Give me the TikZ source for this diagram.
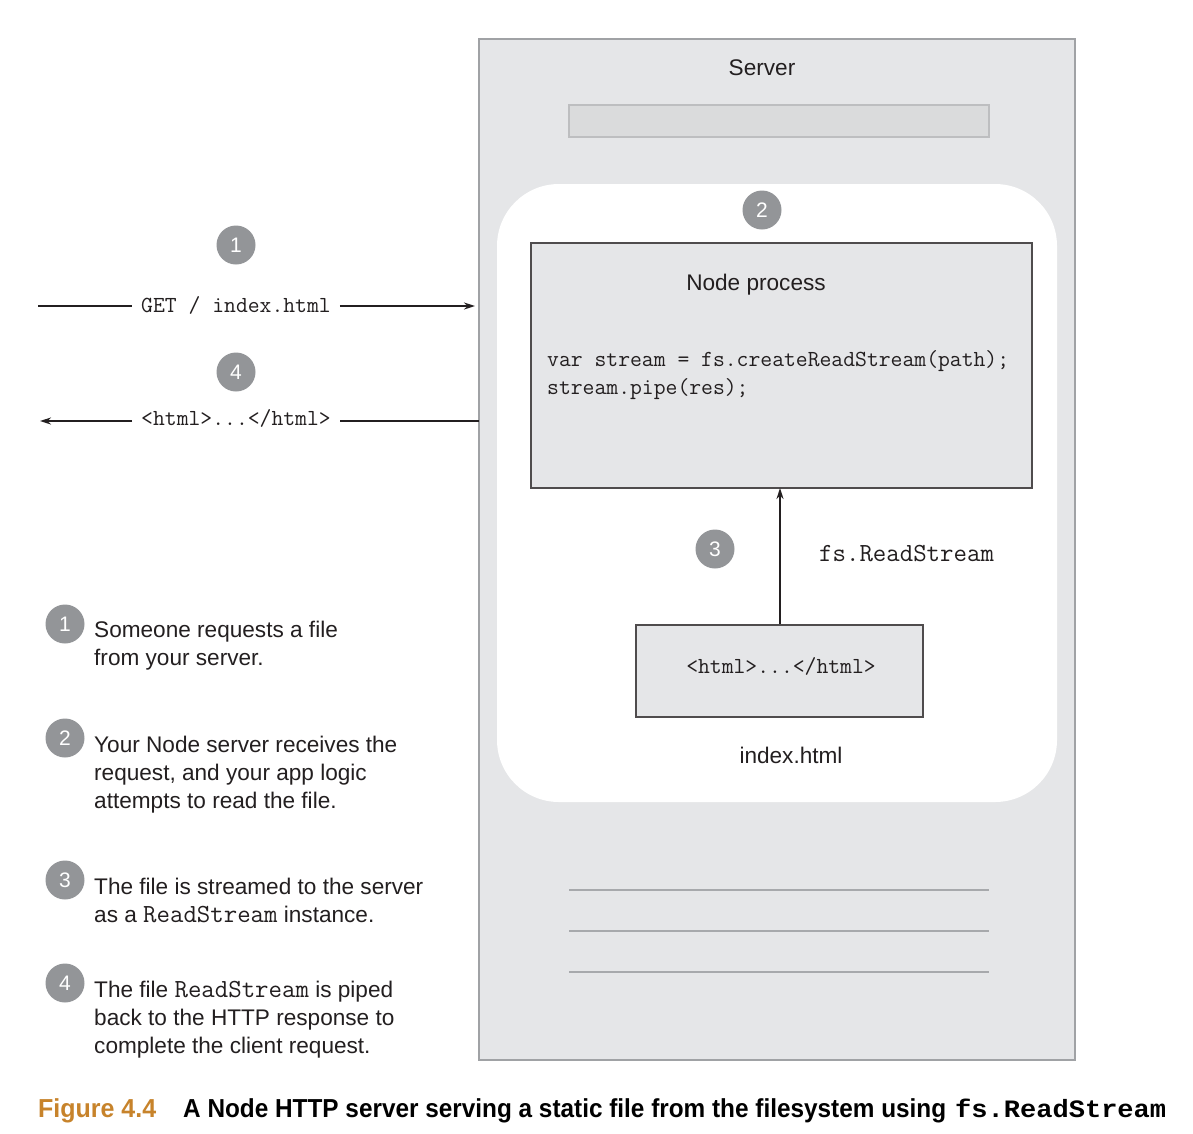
\documentclass[tikz,border=0pt]{standalone}
\usepackage{fontspec}
\usepackage{graphicx}
\setmainfont{Liberation Sans}
\newfontfamily\capmono{Liberation Mono}
\usetikzlibrary{arrows.meta}
\definecolor{srvfill}{HTML}{E5E6E8}
\definecolor{srvline}{HTML}{A0A2A5}
\definecolor{barfill}{HTML}{DADBDC}
\definecolor{barline}{HTML}{BDBEC0}
\definecolor{numgray}{HTML}{939598}
\definecolor{ink}{HTML}{231F20}
\definecolor{figorange}{HTML}{C7832B}
\definecolor{rulegray}{HTML}{A7A9AC}
\tikzset{
  num/.style={circle, fill=numgray, text=white, minimum size=39pt, inner sep=0pt,
    font=\fontsize{21}{21}\selectfont},
  sanstxt/.style={inner sep=0pt, text=ink, font=\fontsize{22.6}{28}\selectfont},
  codetxt/.style={inner sep=0pt, text=ink, font=\ttfamily\fontsize{23}{28}\selectfont},
  bigcode/.style={inner sep=0pt, text=ink, font=\ttfamily\fontsize{26.1}{28}\selectfont},
  conn/.style={draw=ink, line width=1.8pt},
  arr/.style={conn, -{Stealth[length=11pt,width=7pt]}},
  boxstyle/.style={draw=ink!80, line width=1.6pt, fill=srvfill, inner sep=0pt, anchor=north west},
  legend/.style={inner sep=0pt, anchor=base west, text=ink, font=\fontsize{22.6}{28}\selectfont}
}
\newcommand{\lmcode}[1]{{\ttfamily\fontsize{26.1}{28}\selectfont #1}}
\begin{document}
\begin{tikzpicture}[x=1pt,y=-1pt]
\useasboundingbox[fill=white] (0,0) rectangle (1193,1133);

% server
\draw[srvline, fill=srvfill, line width=1.6pt] (479,39) rectangle (1075,1060);
\node[sanstxt, anchor=base] (server) at (762,75) {Server};
\draw[barline, fill=barfill, line width=1.2pt] (569,105) rectangle (989,137);
\fill[white, rounded corners=62pt] (497,184) rectangle (1057,802);
\foreach \yy in {890,931,972}{\draw[rulegray, line width=2pt] (569,\yy) -- (989,\yy);}

% node process
\node[num] (n2) at (762,210) {2};
\node[boxstyle, minimum width=501pt, minimum height=245pt] (proc) at (530,242) {};
\node[sanstxt, anchor=base] (proctitle) at (756,290) {Node process};
\node[codetxt, anchor=base west] (code1) at (547,366) {var stream = fs.createReadStream(path);};
\node[codetxt, anchor=base west] (code2) at (547,394) {stream.pipe(res);};

% file
\node[boxstyle, minimum width=287pt, minimum height=92pt] (html) at (635,624) {};
\node[codetxt, anchor=base] (htmltxt) at (781,673) {<html>...</html>};
\node[sanstxt, anchor=base] (idx) at (791,763) {index.html};
\draw[arr] (780,624) -- (780,488);
\node[num] (n3) at (715,549) {3};
\node[bigcode, anchor=base west] (rs) at (819,561) {fs.ReadStream};

% request / response
\node[num] (n1) at (236,245) {1};
\node[num] (n4) at (236,372) {4};
\coordinate (reqstart) at (38,306);
\coordinate (reqend) at (475,306);
\coordinate (resstart) at (479,421);
\coordinate (resend) at (40,421);
\node[codetxt, anchor=base, inner xsep=9pt] (get) at (236,312) {GET / index.html};
\node[codetxt, anchor=base, inner xsep=9pt] (resp) at (236,425) {<html>...</html>};
\draw[conn] (reqstart) -- (reqstart -| get.west);
\draw[arr] (reqend -| get.east) -- (reqend);
\draw[conn] (resstart) -- (resstart -| resp.east);
\draw[arr] (resend -| resp.west) -- (resend);

% legend
\node[num] (l1) at (65,624) {1};
\node[num] (l2) at (65,738) {2};
\node[num] (l3) at (65,880) {3};
\node[num] (l4) at (65,983) {4};
\node[legend] (t1) at (94,637) {\parbox[t]{360pt}{\raggedright Someone requests a file\\from your server.}};
\node[legend] (t2) at (94,752) {\parbox[t]{360pt}{\raggedright Your Node server receives the\\request, and your app logic\\attempts to read the file.}};
\node[legend] (t3) at (94,894) {\parbox[t]{360pt}{\raggedright The file is streamed to the server\\as a \lmcode{ReadStream} instance.}};
\node[legend] (t4) at (94,997) {\parbox[t]{360pt}{\raggedright The file \lmcode{ReadStream} is piped\\back to the HTTP response to\\complete the client request.}};

% caption
\node[inner sep=0pt, anchor=base west, text=figorange, font=\bfseries\fontsize{26}{28}\selectfont] (figno) at (38,1117) {\resizebox{118pt}{\height}{Figure 4.4}};
\node[inner sep=0pt, anchor=base west, text=black, font=\bfseries\fontsize{26}{28}\selectfont] (captxt) at (183,1117) {\resizebox{763pt}{\height}{A Node HTTP server serving a static file from the filesystem using}};
\node[inner sep=0pt, anchor=base west, text=black, font=\capmono\bfseries\fontsize{25}{28}\selectfont] (capcode) at (955,1117) {\resizebox{211pt}{\height}{fs.ReadStream}};
\end{tikzpicture}
\end{document}
